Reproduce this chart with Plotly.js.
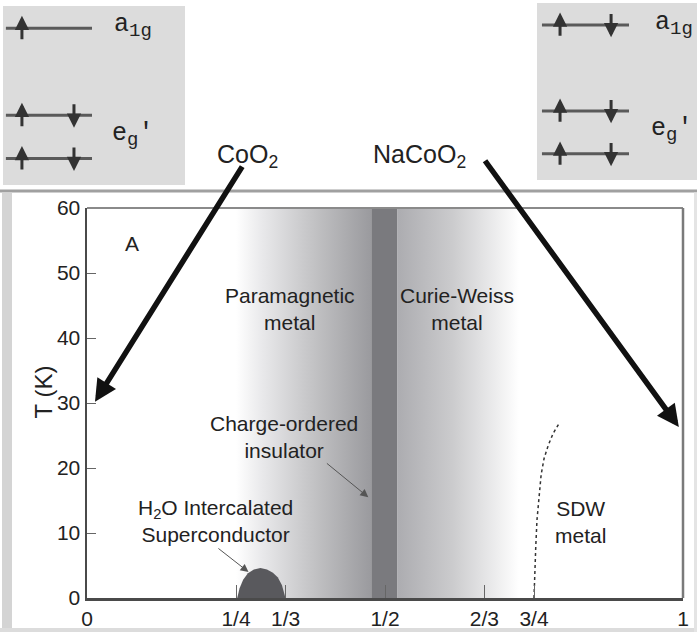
<!DOCTYPE html>
<html>
<head>
<meta charset="utf-8">
<script src="https://cdn.plot.ly/plotly-3.0.1.min.js"></script>
<style>html,body{margin:0;padding:0;background:#fff}#chart{width:697px;height:632px}</style>
</head>
<body>
<div id="chart"></div>
<script>
// ---- data ----
const xTickVals = [0, 1/4, 1/3, 1/2, 2/3, 3/4, 1];
const xTickText = ['0', '1/4', '1/3', '1/2', '2/3', '3/4', '1'];
const yTickVals = [0, 10, 20, 30, 40, 50, 60];
const tMax = 60;

const paraX = [0.25, 0.477];      // paramagnetic metal region
const coX = [0.477, 0.521];       // charge-ordered insulator
const cwX = [0.521, 0.725];       // Curie-Weiss metal region

const domeX = [0.252, 0.256, 0.262, 0.270, 0.280, 0.291, 0.302, 0.312, 0.320, 0.327, 0.333];
const domeT = [0, 1.5, 2.8, 3.8, 4.4, 4.6, 4.4, 3.9, 3.2, 2.0, 0];

const sdwX = [0.750, 0.751, 0.753, 0.755, 0.758, 0.762, 0.767, 0.774, 0.782, 0.793];
const sdwT = [0, 4, 8, 12, 15.5, 19, 21.5, 23.5, 25.3, 27];

// orbital levels (arbitrary energy units)
const levelNames = ['eg1', 'eg2', 'a1g'];
const levelE = [14.8, 39, 87.6];
const leftLevelX = [1.6, 48.9];
const rightLevelX = [3.1, 57.5];
// spins: up / down occupancy per level
const coo2Up = [1, 1, 1];
const coo2Down = [1, 1, 0];
const nacoo2Up = [1, 1, 1];
const nacoo2Down = [1, 1, 1];
const leftSpinX = [10.4, 39.0];
const rightSpinX = [14.4, 46.3];

// ---- build ----
function levelTrace(lx, xa, ya) {
  const xs = [], ys = [];
  levelE.forEach(e => { xs.push(lx[0], lx[1], null); ys.push(e, e, null); });
  return {x: xs, y: ys, xaxis: xa, yaxis: ya, mode: 'lines', line: {color: '#5a5a5a', width: 3}, hoverinfo: 'skip', showlegend: false};
}

const traces = [
  {x: paraX, y: [tMax, tMax], mode: 'none', fill: 'tozeroy',
   fillgradient: {type: 'horizontal', start: paraX[0], stop: paraX[1],
     colorscale: [[0, '#ffffff'], [0.2, '#e8e8ea'], [0.6, '#c0c0c2'], [1, '#9a9a9e']]},
   hoverinfo: 'skip', showlegend: false},
  {x: coX, y: [tMax, tMax], mode: 'none', fill: 'tozeroy', fillcolor: '#7a7a7e', hoverinfo: 'skip', showlegend: false},
  {x: cwX, y: [tMax, tMax], mode: 'none', fill: 'tozeroy',
   fillgradient: {type: 'horizontal', start: cwX[0], stop: cwX[1],
     colorscale: [[0, '#acacb0'], [0.45, '#cbcbcd'], [0.8, '#ececed'], [1, '#ffffff']]},
   hoverinfo: 'skip', showlegend: false},
  {x: domeX, y: domeT, mode: 'lines', fill: 'toself', fillcolor: '#59595d', line: {width: 0, color: '#59595d'}, hoverinfo: 'skip', showlegend: false},
  {x: sdwX, y: sdwT, mode: 'lines', line: {color: '#333', width: 1.5, dash: '3px,3px'}, hoverinfo: 'skip', showlegend: false},
  levelTrace(leftLevelX, 'x2', 'y2'),
  levelTrace(rightLevelX, 'x3', 'y3')
];

const txtFont = {family: 'Liberation Sans, Arial, sans-serif', size: 21, color: '#222'};
const monoFont = {family: 'Liberation Mono, Courier New, monospace', size: 25, color: '#222'};
const a1gText = 'a<sub><span style="font-size:19px">1g</span></sub>';
const egText = 'e<sub><span style="font-size:19px">g</span></sub>′';

const annotations = [
  {x: 0.075, y: 54.5, xref: 'x', yref: 'y', text: 'A', showarrow: false, font: txtFont},
  {x: 0.341, y: 44.5, xref: 'x', yref: 'y', text: 'Paramagnetic<br>metal', showarrow: false, font: txtFont},
  {x: 0.62, y: 44.5, xref: 'x', yref: 'y', text: 'Curie-Weiss<br>metal', showarrow: false, font: txtFont},
  {x: 0.331, y: 24.8, xref: 'x', yref: 'y', text: 'Charge-ordered<br>insulator', showarrow: false, font: txtFont},
  {x: 0.215, y: 11.8, xref: 'x', yref: 'y', text: 'H<sub>2</sub>O Intercalated<br>Superconductor', showarrow: false, font: txtFont},
  {x: 0.828, y: 11.7, xref: 'x', yref: 'y', text: 'SDW<br>metal', showarrow: false, font: txtFont},
  // thin pointer arrows
  {x: 0.472, y: 15.5, ax: 0.40, ay: 20.9, xref: 'x', yref: 'y', axref: 'x', ayref: 'y', text: '', showarrow: true,
   arrowhead: 2, arrowsize: 1.6, arrowwidth: 1, arrowcolor: '#555'},
  {x: 0.271, y: 4.0, ax: 0.218, ay: 7.8, xref: 'x', yref: 'y', axref: 'x', ayref: 'y', text: '', showarrow: true,
   arrowhead: 2, arrowsize: 1.6, arrowwidth: 1, arrowcolor: '#555'},
  // big arrows
  {x: 0.0134, y: 30.2, ax: 0.262, ay: 66.6, xref: 'x', yref: 'y', axref: 'x', ayref: 'y', text: '', showarrow: true,
   arrowhead: 2, arrowsize: 0.8, arrowwidth: 5.5, arrowcolor: '#111'},
  {x: 0.993, y: 26.3, ax: 0.666, ay: 67.5, xref: 'x', yref: 'y', axref: 'x', ayref: 'y', text: '', showarrow: true,
   arrowhead: 2, arrowsize: 0.8, arrowwidth: 5.5, arrowcolor: '#111'},
  // compound labels
  {x: 247/697, y: 1 - 138/632, xref: 'paper', yref: 'paper', text: 'CoO<sub>2</sub>', showarrow: false,
   font: {family: 'Liberation Sans, Arial, sans-serif', size: 25, color: '#222'}},
  {x: 468/697, y: 1 - 138/632, xref: 'paper', yref: 'paper', text: 'NaCoO<sub>2</sub>', showarrow: false,
   font: {family: 'Liberation Sans, Arial, sans-serif', size: 25, color: '#222'}},
  // y title
  {x: 27/697, y: 1 - 392/632, xref: 'paper', yref: 'paper', text: 'T (K)', textangle: -90, showarrow: false,
   font: {family: 'Liberation Sans, Arial, sans-serif', size: 24, color: '#222'}},
  // orbital labels
  {x: 60, y: 88.8, xref: 'x2', yref: 'y2', xanchor: 'left', text: a1gText, showarrow: false, font: monoFont},
  {x: 59, y: 27.9, xref: 'x2', yref: 'y2', xanchor: 'left', text: egText, showarrow: false, font: monoFont},
  {x: 72.5, y: 88, xref: 'x3', yref: 'y3', xanchor: 'left', text: a1gText, showarrow: false, font: monoFont},
  {x: 70, y: 28.2, xref: 'x3', yref: 'y3', xanchor: 'left', text: egText, showarrow: false, font: monoFont}
];

function spinArrows(spinX, ups, downs, xa, ya) {
  levelE.forEach((e, i) => {
    if (ups[i]) annotations.push({x: spinX[0], y: e + 7, ax: spinX[0], ay: e - 7, xref: xa, yref: ya, axref: xa, ayref: ya,
      text: '', showarrow: true, arrowhead: 2, arrowsize: 0.95, arrowwidth: 3, arrowcolor: '#333'});
    if (downs[i]) annotations.push({x: spinX[1], y: e - 7, ax: spinX[1], ay: e + 7, xref: xa, yref: ya, axref: xa, ayref: ya,
      text: '', showarrow: true, arrowhead: 2, arrowsize: 0.95, arrowwidth: 3, arrowcolor: '#333'});
  });
}
spinArrows(leftSpinX, coo2Up, coo2Down, 'x2', 'y2');
spinArrows(rightSpinX, nacoo2Up, nacoo2Down, 'x3', 'y3');

const shapes = [
  // outer panel frame
  {type: 'rect', xref: 'paper', yref: 'paper', x0: 0, x1: 1, y0: 1 - 192.5/632, y1: 1 - 189.5/632, fillcolor: '#a0a0a0', line: {width: 0}, layer: 'below'},
  {type: 'rect', xref: 'paper', yref: 'paper', x0: 2/697, x1: 12/697, y0: 0, y1: 1 - 192.5/632, fillcolor: '#d4d4d4', line: {width: 0}, layer: 'below'},
  {type: 'rect', xref: 'paper', yref: 'paper', x0: 0, x1: 1, y0: 0, y1: 4/632, fillcolor: '#dcdcdc', line: {width: 0}, layer: 'below'},
  {type: 'rect', xref: 'paper', yref: 'paper', x0: 694/697, x1: 1, y0: 0, y1: 1 - 192.5/632, fillcolor: '#e4e4e4', line: {width: 0}, layer: 'below'},
  // orbital boxes
  {type: 'rect', xref: 'x2 domain', yref: 'y2 domain', x0: 0, x1: 1, y0: 0, y1: 1, fillcolor: '#dcdcdc', line: {width: 0}, layer: 'below'},
  {type: 'rect', xref: 'x3 domain', yref: 'y3 domain', x0: 0, x1: 1, y0: 0, y1: 1, fillcolor: '#dcdcdc', line: {width: 0}, layer: 'below'},
  // top and right frame of plot
  {type: 'line', xref: 'x domain', yref: 'y domain', x0: 0, x1: 1, y0: 1, y1: 1, line: {color: '#8a8a8a', width: 2}},
  {type: 'line', xref: 'x domain', yref: 'y domain', x0: 1, x1: 1, y0: 0, y1: 1, line: {color: '#7a7a7a', width: 2.5}}
];

const tickFont = {family: 'Liberation Sans, Arial, sans-serif', size: 21, color: '#222'};
const hidden = {visible: false, range: [0, 100], fixedrange: true};

const layout = {
  width: 697, height: 632,
  margin: {l: 0, r: 0, t: 0, b: 0},
  paper_bgcolor: '#ffffff', plot_bgcolor: 'rgba(0,0,0,0)',
  showlegend: false,
  xaxis: {domain: [87/697, 683/697], range: [0, 1], tickvals: xTickVals, ticktext: xTickText,
    ticks: 'inside', ticklen: 13, tickwidth: 1, tickcolor: '#666', showgrid: false, zeroline: false,
    showline: true, linecolor: '#4a4a4a', linewidth: 2.5, tickfont: tickFont, fixedrange: true, layer: 'above traces'},
  yaxis: {domain: [34/632, 424/632], range: [0, tMax], tickvals: yTickVals,
    ticks: 'inside', ticklen: 9, tickwidth: 1, tickcolor: '#666', showgrid: false, zeroline: false,
    showline: true, linecolor: '#4a4a4a', linewidth: 2.5, tickfont: tickFont, fixedrange: true, layer: 'above traces'},
  xaxis2: Object.assign({domain: [3/697, 185/697], anchor: 'y2'}, hidden),
  yaxis2: Object.assign({domain: [1 - 185/632, 1 - 6/632], anchor: 'x2'}, hidden),
  xaxis3: Object.assign({domain: [537/697, 1], anchor: 'y3'}, hidden),
  yaxis3: Object.assign({domain: [1 - 180/632, 1 - 3/632], anchor: 'x3'}, hidden),
  shapes: shapes,
  annotations: annotations
};

Plotly.newPlot('chart', traces, layout, {staticPlot: true, displayModeBar: false});
</script>
</body>
</html>
